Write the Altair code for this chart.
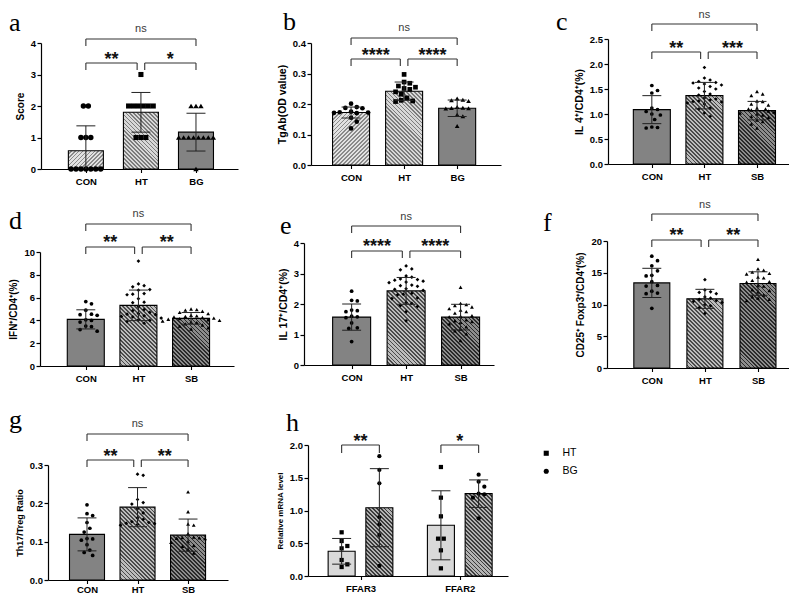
import math
from collections import defaultdict
import altair as alt
import pandas as pd

FONT = "Liberation Sans, Arial, Helvetica, sans-serif"
SERIF = "Liberation Serif, Times New Roman, Times, serif"
CELL_W, CELL_H = 260, 195

# ---------------- values ----------------
names_bg = ["CON", "HT", "BG"]
names_sb = ["CON", "HT", "SB"]

a_mean = [0.58, 1.80, 1.17]
a_sd = [0.79, 0.63, 0.60]
a_con = [0, 0, 0, 0, 0, 0, 0, 1, 1, 1, 2, 2]
a_ht = [1, 1, 1, 2, 2, 2, 2, 2, 2, 3]
a_bg = [0, 1, 1, 1, 1, 1, 1, 1, 1, 2, 2, 2]

b_mean = [0.172, 0.242, 0.186]
b_sd = [0.018, 0.030, 0.027]
b_con = [0.201, 0.19, 0.187, 0.186, 0.175, 0.173, 0.172, 0.171, 0.17, 0.155, 0.142, 0.12]
b_ht = [0.297, 0.272, 0.268, 0.259, 0.255, 0.251, 0.248, 0.24, 0.232, 0.22, 0.212, 0.21, 0.208]
b_bg = [0.218, 0.214, 0.212, 0.21, 0.19, 0.188, 0.187, 0.186, 0.185, 0.165, 0.16, 0.128]

c_mean = [1.087, 1.367, 1.067]
c_sd = [0.28, 0.265, 0.185]
c_con = [1.57, 1.47, 1.42, 1.12, 1.09, 1.05, 1.0, 0.98, 0.89, 0.74, 0.73, 0.72]
c_ht = [1.93, 1.72, 1.68, 1.65, 1.63, 1.62, 1.6, 1.58, 1.55, 1.52, 1.5, 1.45, 1.4,
        1.38, 1.32, 1.3, 1.28, 1.26, 1.25, 1.24, 1.22, 1.2, 1.12, 1.1, 1.02, 0.95]
c_sb = [1.45, 1.4, 1.37, 1.26, 1.25, 1.2, 1.18, 1.12, 1.1, 1.1, 1.08, 1.06, 1.04,
        1.02, 1.0, 0.98, 0.95, 0.93, 0.88, 0.85, 0.8, 0.72]

d_mean = [4.09, 5.32, 4.18]
d_sd = [0.84, 1.34, 0.51]
d_con = [5.65, 5.45, 4.9, 4.55, 4.5, 4.45, 4.05, 4.0, 3.85, 3.5, 3.45, 3.2, 3.05]
d_ht = [9.2, 7.2, 7.05, 6.95, 6.7, 6.65, 6.35, 6.3, 6.25, 5.9, 5.6, 5.55, 5.2, 4.95,
        4.85, 4.7, 4.6, 4.55, 4.5, 4.4, 4.35, 4.3, 4.2, 4.05, 4.0, 3.9, 3.75]
d_sb = [5.0, 4.95, 4.9, 4.8, 4.7, 4.6, 4.45, 4.4, 4.35, 4.3, 4.25, 4.2, 4.15, 4.1,
        4.05, 4.0, 3.95, 3.85, 3.8, 3.7, 3.6, 3.5, 3.35, 3.25]

e_mean = [1.57, 2.43, 1.57]
e_sd = [0.43, 0.44, 0.42]
e_con = [2.42, 2.12, 2.1, 1.8, 1.78, 1.75, 1.6, 1.58, 1.55, 1.38, 1.22, 1.2, 0.77]
e_ht = [3.25, 3.15, 3.12, 2.92, 2.88, 2.82, 2.8, 2.78, 2.75, 2.72, 2.7, 2.62, 2.6, 2.58,
        2.5, 2.48, 2.45, 2.35, 2.32, 2.3, 2.2, 2.18, 2.05, 2.02, 1.95, 1.92, 1.75, 1.45]
e_sb = [2.55, 2.02, 1.98, 1.95, 1.9, 1.85, 1.8, 1.75, 1.7, 1.62, 1.6, 1.58, 1.48, 1.45,
        1.42, 1.4, 1.35, 1.25, 1.18, 1.12, 1.02, 0.8]

f_mean = [13.4, 10.89, 13.3]
f_sd = [2.3, 1.5, 1.85]
f_con = [17.6, 16.9, 16.1, 15.3, 14.6, 14.5, 13.6, 13.0, 12.9, 12.1, 11.8, 11.7, 9.4]
f_ht = [13.9, 12.3, 12.0, 11.9, 11.7, 11.2, 11.0, 10.8, 10.6, 10.5, 10.3, 10.0, 9.8, 9.5, 8.6]
f_sb = [17.1, 15.6, 15.4, 15.1, 14.9, 14.8, 14.3, 14.2, 13.8, 13.6, 13.5, 13.0, 12.9,
        12.3, 12.2, 12.0, 11.5, 11.2, 11.0, 10.8, 10.6]

g_mean = [0.119, 0.19, 0.117]
g_sd = [0.043, 0.051, 0.042]
g_con = [0.196, 0.173, 0.168, 0.15, 0.135, 0.125, 0.108, 0.107, 0.104, 0.092, 0.078, 0.072, 0.064]
g_ht = [0.276, 0.273, 0.21, 0.202, 0.198, 0.186, 0.175, 0.162, 0.158, 0.152, 0.15, 0.148,
        0.147, 0.145, 0.143]
g_sb = [0.23, 0.178, 0.146, 0.143, 0.121, 0.112, 0.111, 0.11, 0.109, 0.108, 0.1, 0.098,
        0.09, 0.088, 0.08, 0.07]

h_genes = ["FFAR3", "FFAR2"]
h_groups = ["HT", "BG"]
h_mean = [0.377, 1.043, 0.774, 1.257]          # FFAR3-HT, FFAR3-BG, FFAR2-HT, FFAR2-BG
h_sd = [0.196, 0.596, 0.527, 0.21]
h_ffar3_ht = [0.667, 0.534, 0.458, 0.422, 0.244, 0.178, 0.137]
h_ffar3_bg = [1.83, 1.62, 1.415, 0.9, 0.79, 0.626, 0.153]
h_ffar2_ht = [1.664, 1.196, 0.911, 0.57, 0.57, 0.392, 0.117]
h_ffar2_bg = [1.547, 1.44, 1.364, 1.257, 1.247, 1.196, 0.88]

# significance brackets: (level of ns bracket, level of pairwise brackets) in data units
a_br = (4.127, 3.365); a_sig = ["**", "*"]
b_br = (0.4164, 0.3475); b_sig = ["****", "****"]
c_br = (2.8, 2.24); c_sig = ["**", "***"]
d_br = (12.46, 10.44); d_sig = ["**", "**"]
e_br = (4.557, 3.738); e_sig = ["****", "****"]
f_br = (24.25, 20.16); f_sig = ["**", "**"]
g_br = (0.381, 0.313); g_sig = ["**", "**"]
h_br = 2.0; h_sig = ["**", "*"]

# ---------------- styles ----------------
SOLID_MID = ("solid", "#838383")
SOLID_LIGHT = ("solid", "#d9d9d9")
H_LIGHT_A = ("hatch", "/", "#e2e2e2", "#8a8a8a")
H_LIGHT_B = ("hatch", "\\", "#d8d8d8", "#7c7c7c")
H_MED = ("hatch", "\\", "#bcbcbc", "#4a4a4a")
H_DARK = ("hatch", "\\", "#8c8c8c", "#2a2a2a")
H_H = ("hatch", "\\", "#b2b2b2", "#3c3c3c")


def make_fill(style, w, h):
    if style[0] == "solid":
        return style[1]
    _, direction, bg, line = style
    h = max(h, 1.0)
    period = 2.8
    n = (w + h) / (period * math.sqrt(2))
    stops = []
    i = 0
    while i / n < 1:
        a = i / n
        b = min((i + 0.55) / n, 1.0)
        c = min((i + 1) / n, 1.0)
        stops += [(a, bg), (b, bg), (b, line), (c, line)]
        i += 1
    k = (w + h) / (w * w + h * h)
    if direction == "/":
        x1, y1, x2, y2 = 0, 0, k * w, k * h
    else:
        x1, y1, x2, y2 = 0, 1, k * w, 1 - k * h
    return {"gradient": "linear", "x1": x1, "y1": y1, "x2": x2, "y2": y2,
            "stops": [{"offset": o, "color": col} for o, col in stops]}


def swarm(vals, pxu, dist):
    order = sorted(range(len(vals)), key=lambda i: -vals[i])
    cands = [0.0]
    for j in range(1, 60):
        cands += [j * dist / 2, -j * dist / 2]
    placed, offs = [], [0.0] * len(vals)
    for i in order:
        y = vals[i] * pxu
        chosen = 0.0
        for c in cands:
            if all((c - px) ** 2 + (y - py) ** 2 >= dist * dist * 0.999 for py, px in placed):
                chosen = c
                break
        placed.append((y, chosen))
        offs[i] = chosen
    same = defaultdict(list)
    for i, v in enumerate(vals):
        same[v].append(i)
    for idx in same.values():
        if len(idx) > 1:
            m = sum(offs[i] for i in idx) / len(idx)
            for i in idx:
                offs[i] -= m
    return offs


def fmt_labels(values, labels):
    expr = "''"
    for v, l in reversed(list(zip(values, labels))):
        expr = f"datum.value == {v} ? '{l}' : ({expr})"
    return expr


def build_panel(P):
    cx, cy = P["cell"]
    lx0, lx1 = P["x0"] - cx, P["x1"] - cx
    lyb, lyt = P["yb"] - cy, P["yt"] - cy
    step, ref = P["step"], P["ref"]
    dx0, dx1 = (P["x0"] - ref) / step, (P["x1"] - ref) / step
    pxu = (P["yb"] - P["yt"]) / P["ymax"]

    xs = alt.Scale(domain=[dx0, dx1], range=[lx0, lx1], nice=False, zero=False)
    ys = alt.Scale(domain=[0, P["ymax"]], range=[lyb, lyt], nice=False, zero=False)
    xaxis = alt.Axis(values=P["xticks"], labelExpr=fmt_labels(P["xticks"], P["xlabels"]),
                     title=None, offset=lyb - CELL_H, grid=False, ticks=True, tickSize=3.5,
                     tickColor="black", tickWidth=1.1,
                     domainColor="black", domainWidth=1.2,
                     labelPadding=P.get("xlabpad", 3.5), labelAngle=0,
                     labelFont=FONT, labelFontSize=9.5, labelFontWeight="bold",
                     labelColor="black", labelFlush=False, labelOverlap=False)
    yaxis = alt.Axis(values=P["yticks"], format=P["yfmt"], title=P["ytitle"],
                     offset=-lx0, grid=False, tickSize=4, tickColor="black", tickWidth=1.2,
                     domainColor="black", domainWidth=1.2, labelPadding=1.5,
                     labelFont=FONT, labelFontSize=9.5, labelFontWeight="bold",
                     labelColor="black", labelFlush=False, labelOverlap=False,
                     titleFont=FONT, titleFontSize=P["tsize"], titleFontWeight="bold",
                     titleColor="black", titlePadding=5)

    def X(f):
        return alt.X(f, type="quantitative", scale=xs, axis=xaxis)

    def Y(f):
        return alt.Y(f, type="quantitative", scale=ys, axis=yaxis)

    layers = []
    # bars
    for pos, m, fs in zip(P["xpos"], P["mean"], P["fills"]):
        df = pd.DataFrame({"x": [pos], "m": [m]})
        layers.append(alt.Chart(df).mark_bar(
            size=P["barw"], fill=make_fill(fs, P["barw"], m * pxu),
            stroke="black", strokeWidth=1.1).encode(x=X("x"), y=Y("m")))

    # points
    prow = []
    for pos, vals, grp in zip(P["xpos"], P["points"], P["pgroups"]):
        offs = swarm(vals, pxu, P["dist"])
        for v, o in zip(vals, offs):
            prow.append({"x": pos + o / step, "v": v, "grp": grp})
    pdf = pd.DataFrame(prow)
    if P.get("legend"):
        layers.append(alt.Chart(pdf).mark_point(filled=True, color="black", opacity=1,
                                                size=P["psize"]["HT"]).encode(
            x=X("x"), y=Y("v"),
            shape=alt.Shape("grp:N", scale=alt.Scale(domain=["HT", "BG"],
                                                     range=["square", "circle"]),
                            legend=alt.Legend(orient="none", legendX=P["legend"][0],
                                              legendY=P["legend"][1], title=None,
                                              labelFont=FONT, labelFontSize=10.5,
                                              labelColor="black", symbolSize=26,
                                              symbolFillColor="black",
                                              symbolStrokeColor="black",
                                              symbolStrokeWidth=0, labelOffset=11,
                                              rowPadding=7, padding=0))))
    else:
        for grp in dict.fromkeys(P["pgroups"]):
            sub = pdf[pdf["grp"] == grp]
            layers.append(alt.Chart(sub).mark_point(
                filled=True, color="black", opacity=1, shape=P["shapes"][grp],
                size=P["psize"][grp]).encode(x=X("x"), y=Y("v")))

    # error bars
    cap = 10.0 / step
    erow, crow = [], []
    for pos, m, s in zip(P["xpos"], P["mean"], P["sd"]):
        lo = max(0.0, m - s)
        erow.append({"x": pos, "lo": lo, "hi": m + s})
        crow.append({"xl": pos - cap, "xr": pos + cap, "yv": m + s})
        if m - s > 0:
            crow.append({"xl": pos - cap, "xr": pos + cap, "yv": m - s})
    layers.append(alt.Chart(pd.DataFrame(erow)).mark_rule(color="#222", strokeWidth=1).encode(
        x=X("x"), y=Y("lo"), y2="hi"))
    layers.append(alt.Chart(pd.DataFrame(crow)).mark_rule(color="#222", strokeWidth=1).encode(
        x=X("xl"), x2="xr", y=Y("yv")))

    # significance brackets
    tick = P["btick"] / pxu
    lines, ticks, texts = [], [], []
    for (xa, xb, lvl, lab) in P["brackets"]:
        lines.append({"xs": xa, "xe": xb, "yv": lvl})
        ticks.append({"x": xa, "y1": lvl, "y2": lvl - tick})
        ticks.append({"x": xb, "y1": lvl, "y2": lvl - tick})
        texts.append({"xm": (xa + xb) / 2, "yv": lvl, "t": lab})
    layers.append(alt.Chart(pd.DataFrame(lines)).mark_rule(color="#333", strokeWidth=1.1).encode(
        x=X("xs"), x2="xe", y=Y("yv")))
    layers.append(alt.Chart(pd.DataFrame(ticks)).mark_rule(color="#333", strokeWidth=1.1).encode(
        x=X("x"), y=Y("y1"), y2="y2"))
    tdf = pd.DataFrame(texts)
    ns = tdf[tdf["t"] == "ns"]
    st = tdf[tdf["t"] != "ns"]
    if len(ns):
        layers.append(alt.Chart(ns).mark_text(font=FONT, fontSize=11, fill="#3a3a3a",
                                              baseline="alphabetic", dy=-6.5).encode(
            x=X("xm"), y=Y("yv"), text="t:N"))
    layers.append(alt.Chart(st).mark_text(font=FONT, fontSize=18, fontWeight="bold",
                                          fill="#111111", baseline="alphabetic", dy=1.5).encode(
        x=X("xm"), y=Y("yv"), text="t:N"))

    # panel letter
    layers.append(alt.Chart(pd.DataFrame({"t": [P["letter"]]})).mark_text(
        font=SERIF, fontSize=26, fill="black", align="left", baseline="alphabetic").encode(
        x=alt.value(P["lpos"][0]), y=alt.value(P["lpos"][1]), text="t:N"))

    return alt.layer(*layers).properties(width=CELL_W, height=CELL_H)


def tri_brackets(br, sig, gap):
    return [(0, 2, br[0], "ns"), (0, 1 - gap, br[1], sig[0]), (1 + gap, 2, br[1], sig[1])]


SH_BG = {"CON": "circle", "HT": "square", "BG": "triangle-up"}
SH_SB = {"CON": "circle", "HT": "diamond", "SB": "triangle-up"}
SMALL = {"CON": 14, "HT": 14, "SB": 15}

panels_spec = [
    dict(letter="a", cell=(8, 8), x0=40, x1=237, yb=168, yt=42, ymax=4, ref=82, step=58,
         yticks=[0, 1, 2, 3, 4], yfmt="d", ytitle="Score", tsize=10,
         mean=a_mean, sd=a_sd, points=[a_con, a_ht, a_bg], pgroups=names_bg,
         shapes=SH_BG, psize={"CON": 30, "HT": 26, "BG": 30}, dist=5.2,
         fills=[H_LIGHT_A, H_LIGHT_B, SOLID_MID], barw=35, br=a_br, sig=a_sig,
         lpos=(0, 22)),
    dict(letter="b", cell=(268, 8), x0=310, x1=500, yb=164, yt=42, ymax=0.4, ref=347, step=56,
         yticks=[0, 0.1, 0.2, 0.3, 0.4], yfmt=".1f", ytitle="TgAb(OD value)", tsize=10.5,
         mean=b_mean, sd=b_sd, points=[b_con, b_ht, b_bg], pgroups=names_bg,
         shapes=SH_BG, psize={"CON": 22, "HT": 22, "BG": 22}, dist=6,
         fills=[H_LIGHT_A, H_LIGHT_B, SOLID_MID], barw=37, br=b_br, sig=b_sig,
         lpos=(14, 21)),
    dict(letter="c", cell=(528, 8), x0=607, x1=797, yb=163, yt=38, ymax=2.5, ref=648, step=55.5,
         yticks=[0, 0.5, 1.0, 1.5, 2.0, 2.5], yfmt=".1f", ytitle="IL 4\u207a/CD4\u207a(%)",
         tsize=10.5, mean=c_mean, sd=c_sd, points=[c_con, c_ht, c_sb], pgroups=names_sb,
         shapes=SH_SB, psize=SMALL, dist=6,
         fills=[SOLID_MID, H_MED, H_DARK], barw=37, br=c_br, sig=c_sig, lpos=(27, 21)),
    dict(letter="d", cell=(8, 203), x0=39, x1=233, yb=365, yt=251, ymax=10, ref=82, step=55.5,
         yticks=[0, 2, 4, 6, 8, 10], yfmt="d", ytitle="IFN\u207a/CD4\u207a(%)", tsize=10,
         mean=d_mean, sd=d_sd, points=[d_con, d_ht, d_sb], pgroups=names_sb,
         shapes=SH_SB, psize=SMALL, dist=6,
         fills=[SOLID_MID, H_MED, H_DARK], barw=37, br=d_br, sig=d_sig, lpos=(0, 25)),
    dict(letter="e", cell=(268, 203), x0=303, x1=493, yb=364, yt=242, ymax=4, ref=348, step=57.5,
         yticks=[0, 1, 2, 3, 4], yfmt="d", ytitle="IL 17\u207a/CD4\u207a(%)", tsize=10.5,
         mean=e_mean, sd=e_sd, points=[e_con, e_ht, e_sb], pgroups=names_sb,
         shapes=SH_SB, psize=SMALL, dist=6,
         fills=[SOLID_MID, H_MED, H_DARK], barw=38, br=e_br, sig=e_sig, lpos=(11, 30)),
    dict(letter="f", cell=(528, 203), x0=606, x1=798, yb=367, yt=240, ymax=20, ref=648, step=56,
         yticks=[0, 5, 10, 15, 20], yfmt="d", ytitle="CD25\u207a Foxp3\u207a/CD4\u207a(%)",
         tsize=10, mean=f_mean, sd=f_sd, points=[f_con, f_ht, f_sb], pgroups=names_sb,
         shapes=SH_SB, psize=SMALL, dist=6,
         fills=[SOLID_MID, H_MED, H_DARK], barw=36, br=f_br, sig=f_sig, lpos=(14, 27)),
    dict(letter="g", cell=(8, 398), x0=47, x1=227, yb=579, yt=464, ymax=0.3, ref=83, step=53.5,
         yticks=[0, 0.1, 0.2, 0.3], yfmt=".1f", ytitle="Th17/Treg Ratio", tsize=9,
         mean=g_mean, sd=g_sd, points=[g_con, g_ht, g_sb], pgroups=names_sb,
         shapes=SH_SB, psize=SMALL, dist=6, xlabpad=0.5,
         fills=[SOLID_MID, H_MED, H_DARK], barw=35, br=g_br, sig=g_sig, lpos=(0, 29)),
]

specs = []
for P in panels_spec:
    gap = 4.0 / P["step"]
    P["xpos"] = [0, 1, 2]
    P["xticks"] = [0, 1, 2]
    P["xlabels"] = P["pgroups"]
    P["brackets"] = tri_brackets(P["br"], P["sig"], gap)
    P["btick"] = 7
    specs.append(P)

# legend of panel h is placed in whole-figure coordinates
H = dict(letter="h", cell=(268, 398), x0=307, x1=507, yb=575, yt=444, ymax=2.0, ref=357,
         step=104.5, yticks=[0, 0.5, 1.0, 1.5, 2.0], yfmt=".1f", ytitle="Relative mRNA level",
         tsize=8, mean=h_mean, sd=h_sd,
         points=[h_ffar3_ht, h_ffar3_bg, h_ffar2_ht, h_ffar2_bg],
         pgroups=["HT", "BG", "HT", "BG"], psize={"HT": 18, "BG": 18}, dist=6,
         fills=[SOLID_LIGHT, H_H, SOLID_LIGHT, H_H], barw=27, lpos=(17, 32),
         legend=(532, 439))
H["xpos"] = [-0.19, 0.19, 0.81, 1.19]
H["xticks"] = [0, 1]
H["xlabels"] = h_genes
H["brackets"] = [(-0.19, 0.19, h_br, h_sig[0]), (0.81, 1.19, h_br, h_sig[1])]
H["btick"] = 8
specs.append(H)

panels = [build_panel(P) for P in specs]

chart = alt.concat(*panels, columns=3, spacing=0, bounds="flush", align="all").properties(
    padding=0, background="white"
).configure_view(stroke=None)

chart.save("out.html", embed_options={"renderer": "svg", "actions": False})
